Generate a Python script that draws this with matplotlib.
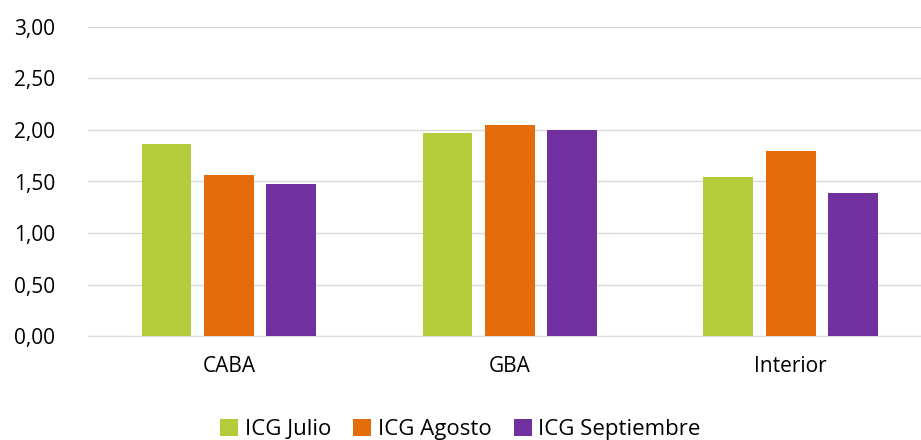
import numpy as np
import matplotlib.pyplot as plt

plt.rcParams['font.family'] = ['Open Sans', 'DejaVu Sans']

regiones = ['CABA', 'GBA', 'Interior']
series = ['ICG Julio', 'ICG Agosto', 'ICG Septiembre']
julio = [1.86, 1.97, 1.54]
agosto = [1.56, 2.05, 1.80]
septiembre = [1.48, 2.00, 1.39]
colores = ['#B5CC3A', '#E46C0A', '#7030A0']

fig = plt.figure(figsize=(9.21, 4.40), dpi=100)
ax = fig.add_axes([0.096, 0.236, 0.915, 0.703])

x = np.arange(len(regiones))
w = 0.177
step = 0.222
for i, (vals, nombre) in enumerate(zip([julio, agosto, septiembre], series)):
    ax.bar(x + (i - 1) * step, vals, w, color=colores[i], label=nombre, zorder=3)

ax.set_xlim(-0.5, 2.5)
ax.set_ylim(0, 3)
ax.set_yticks(np.arange(0, 3.01, 0.5))
ax.set_yticklabels([f'{v:.2f}'.replace('.', ',') for v in np.arange(0, 3.01, 0.5)])
ax.set_xticks(x)
ax.set_xticklabels(regiones)
ax.yaxis.grid(True, color='#D9D9D9', linewidth=1, zorder=0)
for s in ['top', 'right', 'left']:
    ax.spines[s].set_visible(False)
ax.spines['bottom'].set_color('#D9D9D9')
ax.tick_params(axis='both', length=0, labelsize=15, colors='#000000')
ax.tick_params(axis='x', pad=14)
ax.tick_params(axis='y', pad=24)

fig.legend(loc='lower center', ncol=3, frameon=False, fontsize=16,
           bbox_to_anchor=(0.5, -0.045), handlelength=0.8, handleheight=0.8,
           columnspacing=1.0, handletextpad=0.3)

fig.savefig('out.png', dpi=100)
